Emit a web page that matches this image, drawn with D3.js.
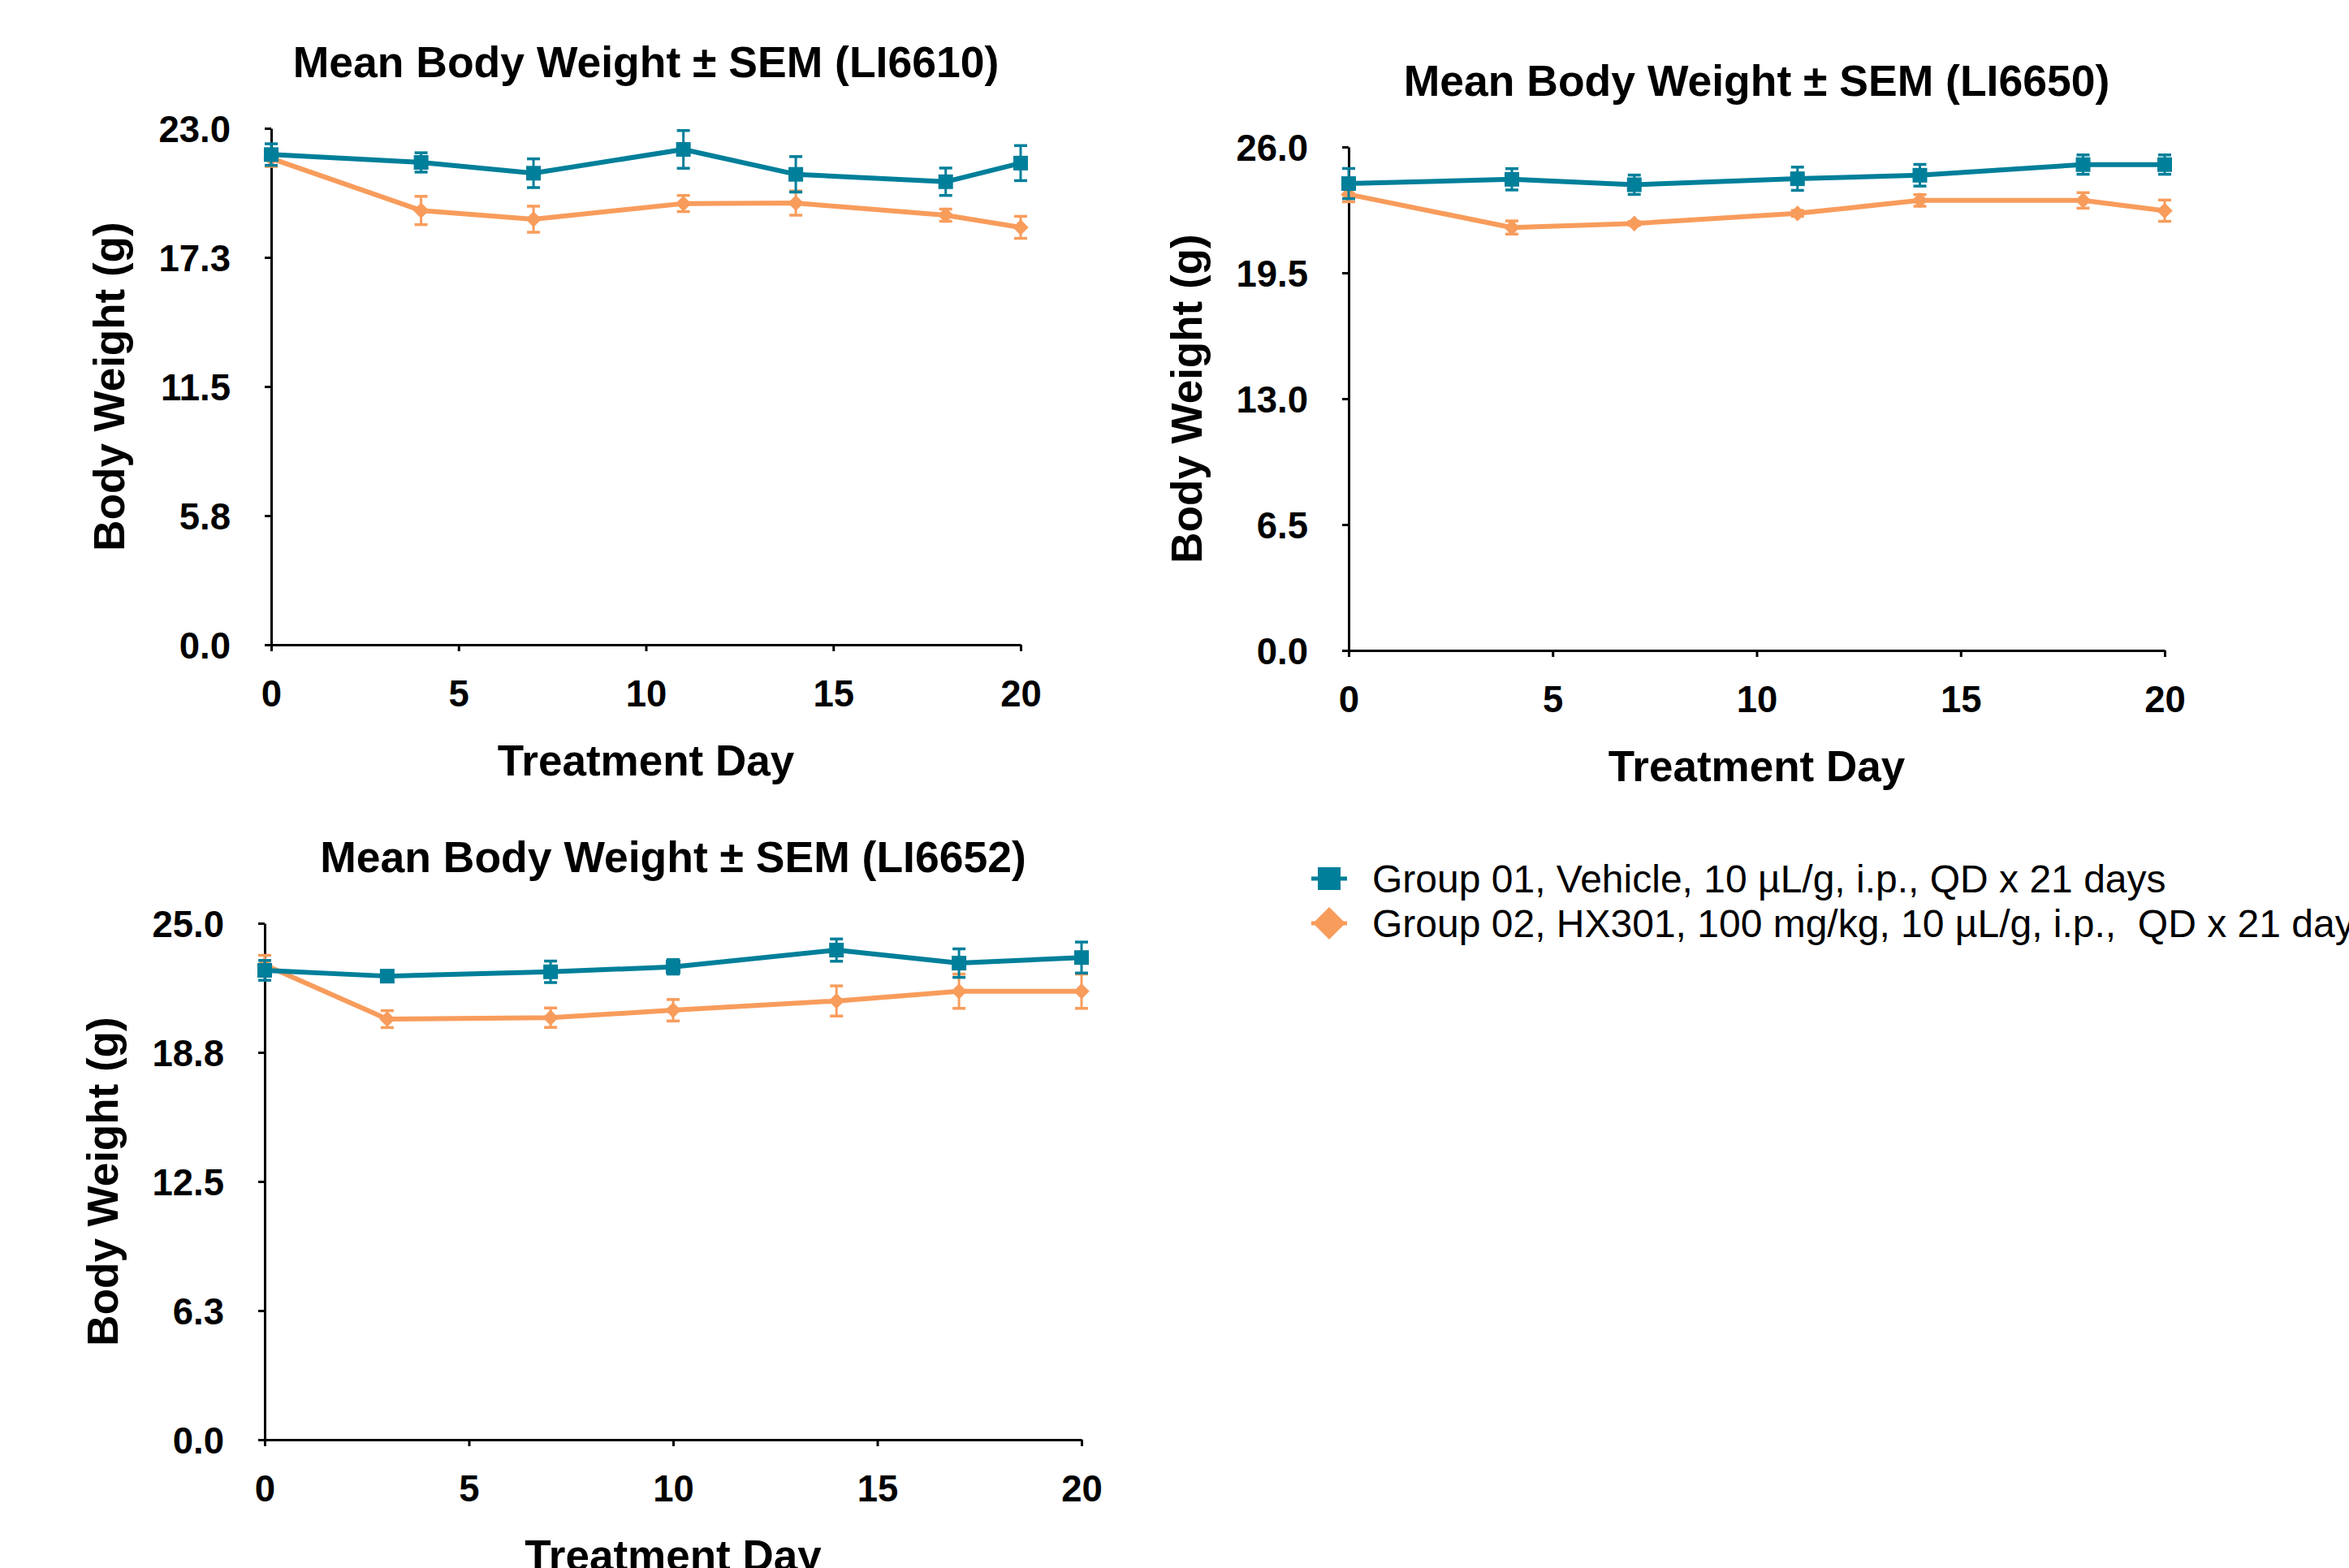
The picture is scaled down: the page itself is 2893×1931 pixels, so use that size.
<!DOCTYPE html>
<html>
<head>
<meta charset="utf-8">
<script src="https://cdn.jsdelivr.net/npm/d3@7"></script>
<style>
  body { margin: 0; background: #fff; }
  svg { display: block; font-family: "Liberation Sans", Arial, sans-serif; }
</style>
</head>
<body>
<div id="chart"></div>
<script>
// ---- data ----
const days6610 = [0, 4, 7, 11, 14, 18, 20];
const veh6610 = [21.83, 21.48, 21.0, 22.06, 20.95, 20.62, 21.45];
const vehSem6610 = [0.48, 0.43, 0.64, 0.84, 0.79, 0.61, 0.78];
const hx6610 = [21.66, 19.34, 18.95, 19.65, 19.67, 19.13, 18.59];
const hxSem6610 = [0.36, 0.63, 0.58, 0.36, 0.54, 0.27, 0.49];
const yTicks6610 = [0, 5.75, 11.5, 17.25, 23];
const yLabels6610 = ["0.0", "5.8", "11.5", "17.3", "23.0"];

const days6650 = [0, 4, 7, 11, 14, 18, 20];
const veh6650 = [24.11, 24.33, 24.05, 24.36, 24.54, 25.09, 25.09];
const vehSem6650 = [0.78, 0.55, 0.5, 0.6, 0.56, 0.5, 0.5];
const hx6650 = [23.55, 21.84, 22.05, 22.57, 23.24, 23.24, 22.71];
const hxSem6650 = [0.38, 0.34, 0.1, 0.15, 0.3, 0.4, 0.55];
const yTicks6650 = [0, 6.5, 13, 19.5, 26];
const yLabels6650 = ["0.0", "6.5", "13.0", "19.5", "26.0"];

const days6652 = [0, 3, 7, 10, 14, 17, 20];
const veh6652 = [22.72, 22.44, 22.65, 22.89, 23.70, 23.07, 23.34];
const vehSem6652 = [0.48, 0.15, 0.52, 0.35, 0.54, 0.69, 0.75];
const hx6652 = [22.99, 20.36, 20.43, 20.79, 21.24, 21.71, 21.71];
const hxSem6652 = [0.46, 0.41, 0.47, 0.52, 0.73, 0.83, 0.83];
const yTicks6652 = [0, 6.25, 12.5, 18.75, 25];
const yLabels6652 = ["0.0", "6.3", "12.5", "18.8", "25.0"];

const xTicks = [0, 5, 10, 15, 20];
const groupNames = ["Group 01, Vehicle, 10 µL/g, i.p., QD x 21 days",
                    "Group 02, HX301, 100 mg/kg, 10 µL/g, i.p.,  QD x 21 days"];

const teal = "#007f9a", orange = "#f89c5c";

let width = 2893, height = 1931;

const svg = d3.select("#chart")
  .append("svg")
  .attr("width", width)
  .attr("height", height)
  .attr("viewBox", [0, 0, width, height]);

svg.append("rect").attr("width", width).attr("height", height).attr("fill", "#fff");

// panel boxes (pixel frames of each plot area)
const panels = [
  {name: "LI6610", days: days6610, veh: veh6610, vehSem: vehSem6610, hx: hx6610, hxSem: hxSem6610,
   yTicks: yTicks6610, yLabels: yLabels6610, left: 334, right: 1257, top: 158, bottom: 794},
  {name: "LI6650", days: days6650, veh: veh6650, vehSem: vehSem6650, hx: hx6650, hxSem: hxSem6650,
   yTicks: yTicks6650, yLabels: yLabels6650, left: 1661, right: 2666, top: 181, bottom: 801},
  {name: "LI6652", days: days6652, veh: veh6652, vehSem: vehSem6652, hx: hx6652, hxSem: hxSem6652,
   yTicks: yTicks6652, yLabels: yLabels6652, left: 326, right: 1332, top: 1137, bottom: 1773}
];

const squareSym = d3.symbol().type(d3.symbolSquare);
const diamondSym = d3.symbol().type(d3.symbolSquare);

for (let p of panels) {
  let x = d3.scaleLinear().domain([0, 20]).range([p.left, p.right]);
  let y = d3.scaleLinear().domain([0, d3.max(p.yTicks)]).range([p.bottom, p.top]);
  let g = svg.append("g").classed("panel", true);

  // Axes
  let yAxis = g.append("g")
    .attr("transform", `translate(${p.left},0)`)
    .call(d3.axisLeft(y).tickValues(p.yTicks).tickFormat((d, i) => p.yLabels[i])
      .tickSize(8).tickSizeOuter(0).tickPadding(42));
  let xAxis = g.append("g")
    .attr("transform", `translate(0,${p.bottom})`)
    .call(d3.axisBottom(x).tickValues(xTicks).tickSize(8).tickSizeOuter(0).tickPadding(36));
  for (let a of [xAxis, yAxis]) {
    a.selectAll("path, line").attr("stroke", "#000").attr("stroke-width", 3);
    a.selectAll("text").attr("fill", "#000").style("font-size", "45.5px").style("font-weight", "bold");
  }
  yAxis.selectAll("text").attr("dy", "0.36em");
  xAxis.selectAll("text").attr("dy", "0.71em");

  // Titles and axis labels
  g.append("text")
    .attr("x", (p.left + p.right) / 2).attr("y", p.top - 63)
    .attr("text-anchor", "middle")
    .style("font-size", "53.5px").style("font-weight", "bold")
    .text(`Mean Body Weight ± SEM (${p.name})`);
  g.append("text")
    .attr("x", (p.left + p.right) / 2).attr("y", p.bottom + 161)
    .attr("text-anchor", "middle")
    .style("font-size", "53px").style("font-weight", "bold")
    .text("Treatment Day");
  g.append("text")
    .attr("transform", `translate(${p.left - 181},${(p.top + p.bottom) / 2}) rotate(-90)`)
    .attr("text-anchor", "middle")
    .style("font-size", "53px").style("font-weight", "bold")
    .text("Body Weight (g)");

  let series = [
    {vals: p.hx, sem: p.hxSem, color: orange, sym: "diamond"},
    {vals: p.veh, sem: p.vehSem, color: teal, sym: "square"}
  ];

  let line = d3.line()
    .x(d => x(d.day))
    .y(d => y(d.v));

  for (let s of series) {
    let pts = p.days.map((day, i) => ({day: day, v: s.vals[i], e: s.sem[i]}));
    let sg = g.append("g");

    sg.append("path")
      .datum(pts)
      .attr("d", line)
      .attr("fill", "none")
      .attr("stroke", s.color)
      .attr("stroke-width", 6)
      .attr("stroke-linejoin", "round");

    // error bars
    sg.selectAll("line.err")
      .data(pts)
      .join("line")
      .classed("err", true)
      .attr("x1", d => x(d.day)).attr("x2", d => x(d.day))
      .attr("y1", d => y(d.v + d.e)).attr("y2", d => y(d.v - d.e))
      .attr("stroke", s.color).attr("stroke-width", 3);
    for (let sign of [1, -1]) {
      sg.selectAll(`line.cap${sign}`)
        .data(pts)
        .join("line")
        .classed(`cap${sign}`, true)
        .attr("x1", d => x(d.day) - 8).attr("x2", d => x(d.day) + 8)
        .attr("y1", d => y(d.v + sign * d.e)).attr("y2", d => y(d.v + sign * d.e))
        .attr("stroke", s.color).attr("stroke-width", 3.5);
    }

    // markers
    sg.selectAll("path.mark")
      .data(pts)
      .join("path")
      .classed("mark", true)
      .attr("d", s.sym === "square" ? squareSym.size(324)() : diamondSym.size(190)())
      .attr("transform", d => `translate(${x(d.day)},${y(d.v)})` + (s.sym === "square" ? "" : " rotate(45)"))
      .attr("fill", s.color);
  }
}

// Legend
const legend = svg.append("g").attr("transform", "translate(1637,1082)");
const legendItems = [
  {name: groupNames[0], color: teal, sym: "square"},
  {name: groupNames[1], color: orange, sym: "diamond"}
];
legend.selectAll("g.item")
  .data(legendItems)
  .join("g")
  .classed("item", true)
  .attr("transform", (d, i) => `translate(0,${i * 55})`)
  .each(function(d) {
    let it = d3.select(this);
    it.append("line")
      .attr("x1", -22).attr("x2", 22)
      .attr("stroke", d.color).attr("stroke-width", 5);
    it.append("path")
      .attr("d", d.sym === "square" ? squareSym.size(784)() : diamondSym.size(800)())
      .attr("transform", d.sym === "square" ? "" : "rotate(45)")
      .attr("fill", d.color);
    it.append("text")
      .attr("x", 53).attr("dy", "0.36em")
      .attr("xml:space", "preserve")
      .style("white-space", "pre")
      .style("font-size", "48px")
      .attr("fill", "#000")
      .text(d.name);
  });
</script>
</body>
</html>
